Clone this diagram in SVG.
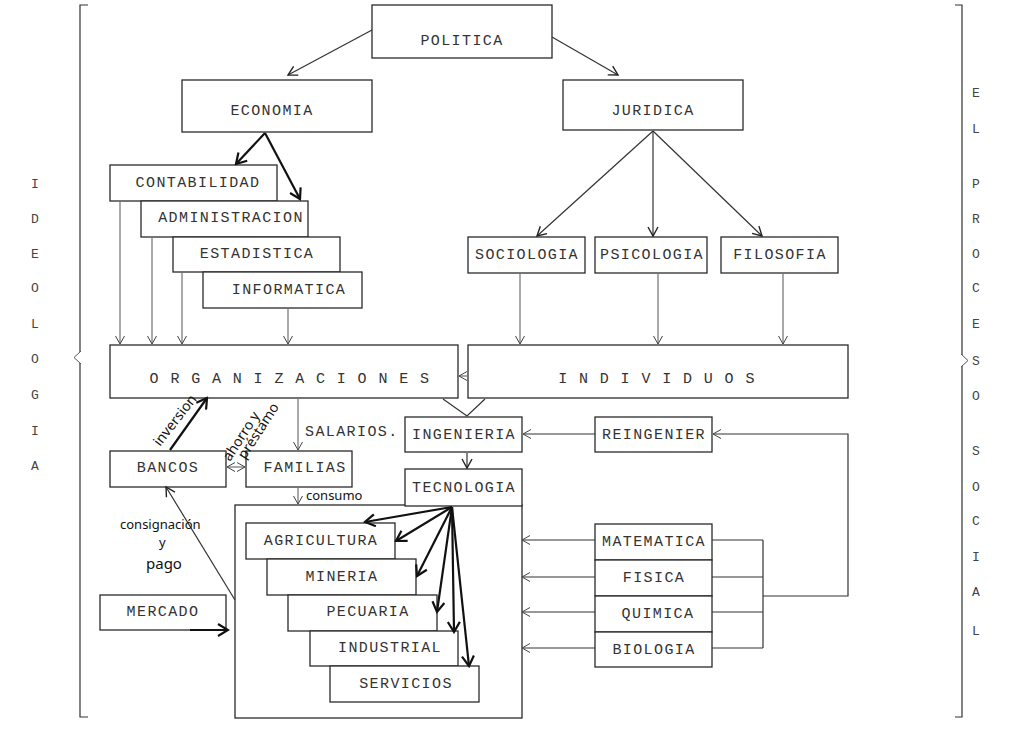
<svg xmlns="http://www.w3.org/2000/svg" width="1024" height="739" viewBox="0 0 1024 739">
<defs>
<style>
.box{fill:#fff;stroke:#2a2a2a;stroke-width:1.3}
.t{font-family:"Liberation Mono","DejaVu Sans Mono",monospace;font-size:15px;letter-spacing:1.4px;fill:#333;text-anchor:middle}
.side{font-family:"Liberation Mono","DejaVu Sans Mono",monospace;font-size:13px;fill:#444;text-anchor:middle}
.hand{font-family:"Noto Sans","DejaVu Sans",sans-serif;font-size:14px;fill:#111}
.ln{fill:none;stroke:#333;stroke-width:1.2}
.thin{fill:none;stroke:#555;stroke-width:1}
.thick{fill:none;stroke:#111;stroke-width:2.2}
</style>
<marker id="ah" viewBox="-10 -6 12 12" refX="0" refY="0" markerWidth="12" markerHeight="12" markerUnits="userSpaceOnUse" orient="auto">
<path d="M-9,-5 L0,0 L-9,5" fill="none" stroke="#222" stroke-width="1.4"/>
</marker>
<marker id="ahk" viewBox="-12 -7 14 14" refX="0" refY="0" markerWidth="14" markerHeight="14" markerUnits="userSpaceOnUse" orient="auto">
<path d="M-10,-6 L0,0 L-10,6" fill="none" stroke="#111" stroke-width="2.2"/>
</marker>
<marker id="ch" viewBox="-9 -6 11 12" refX="0" refY="0" markerWidth="11" markerHeight="12" markerUnits="userSpaceOnUse" orient="auto">
<path d="M-8,-4.5 L0,0 L-8,4.5" fill="none" stroke="#444" stroke-width="1"/>
</marker>
</defs>
<rect width="1024" height="739" fill="#fff"/>

<g id="ideologia">
<path class="ln" d="M88,5 H80 V352 M80,363 V717 H88"/>
<path class="thin" d="M81,351 L74,357.5 L81,364"/>
<text class="side"><tspan x="35" y="188">I</tspan><tspan x="35" y="223">D</tspan><tspan x="35" y="258">E</tspan><tspan x="35" y="292">O</tspan><tspan x="35" y="328">L</tspan><tspan x="35" y="363">O</tspan><tspan x="35" y="399">G</tspan><tspan x="35" y="435">I</tspan><tspan x="35" y="470">A</tspan></text>
</g>
<g id="proceso-social">
<path class="ln" d="M955,5 H962 V355 M962,366 V717 H955"/>
<path class="thin" d="M961,354 L968,360.5 L961,367"/>
<text class="side"><tspan x="976" y="97">E</tspan><tspan x="976" y="133">L</tspan><tspan x="976" y="188">P</tspan><tspan x="976" y="223">R</tspan><tspan x="976" y="258">O</tspan><tspan x="976" y="292">C</tspan><tspan x="976" y="328">E</tspan><tspan x="976" y="365">S</tspan><tspan x="976" y="400">O</tspan><tspan x="976" y="455">S</tspan><tspan x="976" y="491">O</tspan><tspan x="976" y="525">C</tspan><tspan x="976" y="561">I</tspan><tspan x="976" y="596">A</tspan><tspan x="976" y="635">L</tspan></text>
</g>

<g id="politica"><rect class="box" x="372" y="5" width="180" height="53"/><text class="t" x="462" y="45">POLITICA</text></g>
<g id="economia"><rect class="box" x="182" y="80" width="190" height="52"/><text class="t" x="272" y="115">ECONOMIA</text></g>
<g id="juridica"><rect class="box" x="563" y="80" width="180" height="50"/><text class="t" x="653" y="115">JURIDICA</text></g>
<g id="contabilidad"><rect class="box" x="110" y="165" width="167" height="36"/><text class="t" x="198" y="187">CONTABILIDAD</text></g>
<g id="administracion"><rect class="box" x="141" y="201" width="167" height="36"/><text class="t" x="231" y="222">ADMINISTRACION</text></g>
<g id="estadistica"><rect class="box" x="173" y="237" width="167" height="35"/><text class="t" x="257" y="258">ESTADISTICA</text></g>
<g id="informatica"><rect class="box" x="203" y="272" width="159" height="36"/><text class="t" x="289" y="294">INFORMATICA</text></g>
<g id="sociologia"><rect class="box" x="468" y="237" width="117" height="36"/><text class="t" x="527" y="259">SOCIOLOGIA</text></g>
<g id="psicologia"><rect class="box" x="595" y="237" width="112" height="36"/><text class="t" x="652" y="259">PSICOLOGIA</text></g>
<g id="filosofia"><rect class="box" x="721" y="237" width="117" height="36"/><text class="t" x="780" y="259">FILOSOFIA</text></g>
<g id="organizaciones"><rect class="box" x="110" y="345" width="348" height="53"/><text class="t" x="290" y="383">O R G A N I Z A C I O N E S</text></g>
<g id="individuos"><rect class="box" x="468" y="345" width="380" height="53"/><text class="t" x="657" y="383">I N D I V I D U O S</text></g>
<g id="ingenieria"><rect class="box" x="405" y="417" width="117" height="35"/><text class="t" x="464" y="439">INGENIERIA</text></g>
<g id="reingenier"><rect class="box" x="595" y="417" width="117" height="35"/><text class="t" x="654" y="439">REINGENIER</text></g>
<g id="bancos"><rect class="box" x="110" y="451" width="116" height="36"/><text class="t" x="168" y="472">BANCOS</text></g>
<g id="familias"><rect class="box" x="246" y="451" width="106" height="36"/><text class="t" x="305" y="472">FAMILIAS</text></g>
<g id="produccion"><rect class="box" x="235" y="505" width="287" height="213" style="fill:none"/></g>
<g id="tecnologia"><rect class="box" x="405" y="469" width="117" height="37"/><text class="t" x="464" y="492">TECNOLOGIA</text></g>
<g id="mercado"><rect class="box" x="100" y="595" width="126" height="35"/><text class="t" x="163" y="616">MERCADO</text></g>
<g id="agricultura"><rect class="box" x="246" y="523" width="149" height="36"/><text class="t" x="321" y="545">AGRICULTURA</text></g>
<g id="mineria"><rect class="box" x="267" y="559" width="149" height="36"/><text class="t" x="342" y="581">MINERIA</text></g>
<g id="pecuaria"><rect class="box" x="288" y="595" width="149" height="36"/><text class="t" x="368" y="616">PECUARIA</text></g>
<g id="industrial"><rect class="box" x="310" y="631" width="148" height="35"/><text class="t" x="390" y="652">INDUSTRIAL</text></g>
<g id="servicios"><rect class="box" x="330" y="666" width="149" height="36"/><text class="t" x="406" y="688">SERVICIOS</text></g>
<g id="matematica"><rect class="box" x="595" y="524" width="117" height="36"/><text class="t" x="654" y="546">MATEMATICA</text></g>
<g id="fisica"><rect class="box" x="595" y="560" width="117" height="36"/><text class="t" x="654" y="582">FISICA</text></g>
<g id="quimica"><rect class="box" x="595" y="596" width="117" height="36"/><text class="t" x="658" y="618">QUIMICA</text></g>
<g id="biologia"><rect class="box" x="595" y="632" width="117" height="35"/><text class="t" x="654" y="654">BIOLOGIA</text></g>

<g id="connectors">
<path class="ln" d="M372,30 L288,75" marker-end="url(#ah)"/>
<path class="ln" d="M552,37 L618,75" marker-end="url(#ah)"/>
<path class="thick" d="M265,133 L236,164" marker-end="url(#ahk)"/>
<path class="thick" d="M265,133 L300,199" marker-end="url(#ahk)"/>
<path class="ln" d="M653,131 L537,236" marker-end="url(#ah)"/>
<path class="ln" d="M653,131 L653,236" marker-end="url(#ah)"/>
<path class="ln" d="M653,131 L762,236" marker-end="url(#ah)"/>
<path class="thin" d="M120,202 V344" marker-end="url(#ch)"/>
<path class="thin" d="M152,238 V344" marker-end="url(#ch)"/>
<path class="thin" d="M182,273 V344" marker-end="url(#ch)"/>
<path class="thin" d="M288,309 V344" marker-end="url(#ch)"/>
<path class="thin" d="M520,274 V344" marker-end="url(#ch)"/>
<path class="thin" d="M658,274 V344" marker-end="url(#ch)"/>
<path class="thin" d="M783,274 V344" marker-end="url(#ch)"/>
<path class="thin" d="M467,376 L459,376" marker-end="url(#ch)"/>
<path class="ln" d="M443,399 L467,416 L485,399"/>
<path class="ln" d="M467,453 V468" marker-end="url(#ah)"/>
<path class="thin" d="M298,399 V450" marker-end="url(#ch)"/>
<path class="thin" d="M298,488 V504" marker-end="url(#ch)"/>
<path class="thick" d="M170,450 L207,398" marker-end="url(#ahk)"/>
<path class="thin" d="M236,467 L227,467" marker-end="url(#ch)"/>
<path class="thin" d="M236,467 L245,467" marker-end="url(#ch)"/>
<path class="ln" d="M235,600 L166,487" marker-end="url(#ah)"/>
<path class="thick" d="M190,630 L228,630" marker-end="url(#ahk)"/>
<path class="ln" d="M595,434 L523,434" marker-end="url(#ch)"/>
<path class="ln" d="M763,596 H848 V434 H713" marker-end="url(#ch)"/>
<path class="ln" d="M595,540 L522,540" marker-end="url(#ch)"/>
<path class="ln" d="M595,577 L522,577" marker-end="url(#ch)"/>
<path class="ln" d="M595,612 L522,612" marker-end="url(#ch)"/>
<path class="ln" d="M595,648 L522,648" marker-end="url(#ch)"/>
<path class="ln" d="M712,540 H763 M712,577 H763 M712,612 H763 M712,648 H763 M763,540 V648"/>
<path class="thick" d="M452,507 L365,522" marker-end="url(#ahk)"/>
<path class="thick" d="M452,507 L396,541" marker-end="url(#ahk)"/>
<path class="thick" d="M452,507 L417,576" marker-end="url(#ahk)"/>
<path class="thick" d="M452,507 L437,612" marker-end="url(#ahk)"/>
<path class="thick" d="M452,507 L454,632" marker-end="url(#ahk)"/>
<path class="thick" d="M452,507 L469,666" marker-end="url(#ahk)"/>
</g>

<g id="labels">
<text class="t" x="305" y="436" style="text-anchor:start">SALARIOS.</text>
<text class="hand" transform="translate(160,447) rotate(-52)">inversion</text>
<text class="hand" transform="translate(230,462) rotate(-57)">ahorro y</text>
<text class="hand" transform="translate(245,460) rotate(-57)">préstamo</text>
<text class="hand" x="306" y="500" style="font-size:13px">consumo</text>
<text class="hand" x="120" y="529" style="font-size:13px">consignación</text>
<text class="hand" x="159" y="547" style="font-size:13px">y</text>
<text class="hand" x="146" y="569" style="font-size:15px">pago</text>
</g>
</svg>
